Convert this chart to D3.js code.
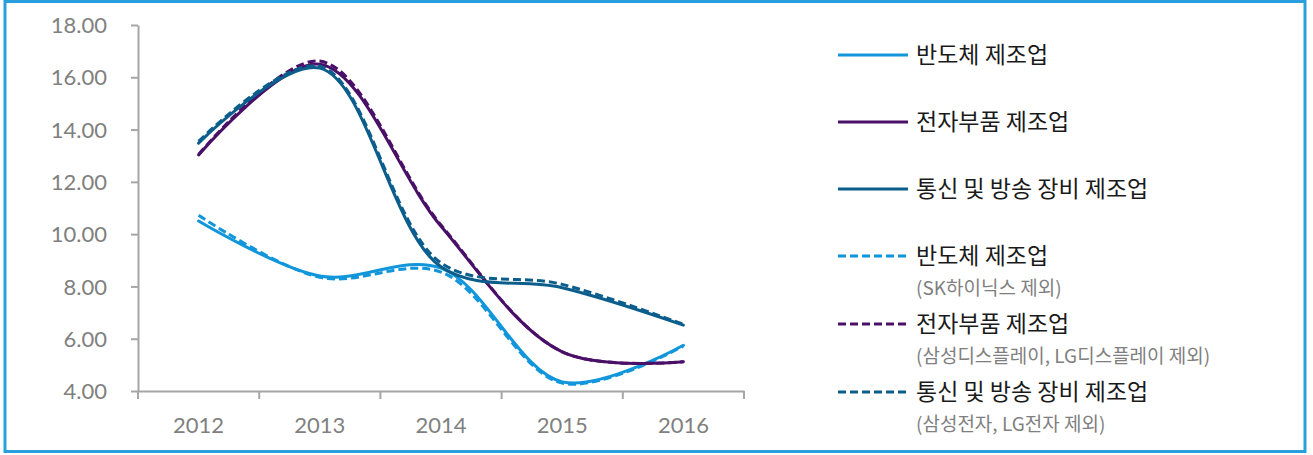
<!DOCTYPE html>
<html><head><meta charset="utf-8">
<script src="https://cdn.jsdelivr.net/npm/d3@7/dist/d3.min.js"></script>
<style>
html,body{margin:0;padding:0;background:#fff;}
svg{display:block;}
</style></head>
<body>
<svg id="chart" width="1313" height="455"></svg>
<script>
// ---- data ----
const years = ["2012", "2013", "2014", "2015", "2016"];
const yTicks = [4, 6, 8, 10, 12, 14, 16, 18];
const semiconductor      = [10.50, 8.40, 8.70, 4.35, 5.75];
const electronicParts    = [13.03, 16.50, 10.30, 5.50, 5.12];
const telecom            = [13.48, 16.35, 8.75, 7.95, 6.52];
const semiconductorExcl  = [10.72, 8.35, 8.55, 4.30, 5.72];
const electronicPartsExcl= [13.05, 16.62, 10.35, 5.50, 5.12];
const telecomExcl        = [13.55, 16.42, 8.90, 8.08, 6.55];
const seriesNames = ["반도체 제조업", "전자부품 제조업", "통신 및 방송 장비 제조업",
                     "반도체 제조업", "전자부품 제조업", "통신 및 방송 장비 제조업"];
const seriesNotes = ["", "", "", "(SK하이닉스 제외)", "(삼성디스플레이, LG디스플레이 제외)", "(삼성전자, LG전자 제외)"];

const colors = ["#1296DB", "#4A1068", "#0B5E8C", "#1296DB", "#4A1068", "#0B5E8C"];
const seriesData = [semiconductor, electronicParts, telecom, semiconductorExcl, electronicPartsExcl, telecomExcl];
const dashed = [false, false, false, true, true, true];

const svg = d3.select("#chart");

// frame
svg.append("rect").attr("x", 5).attr("y", 1.5).attr("width", 1300).attr("height", 450)
  .attr("fill", "none").attr("stroke", "#2A9FDD").attr("stroke-width", 3);

const x = d3.scaleBand().domain(years).range([138, 744]).padding(0);
const y = d3.scaleLinear().domain([4, 18]).range([391, 25]);
const cx = d => x(d) + x.bandwidth() / 2;

const axisColor = "#A6A6A6";
const labelColor = "#808080";
const numFont = "Lato, 'Open Sans', sans-serif";

// y axis
const gy = svg.append("g").attr("transform", "translate(138,0)")
  .call(d3.axisLeft(y).tickValues(yTicks).tickFormat(d3.format(".2f")).tickSize(7).tickSizeOuter(0));
gy.select(".domain").attr("stroke", axisColor).attr("stroke-width", 2);
gy.selectAll(".tick line").attr("stroke", axisColor).attr("stroke-width", 2);
gy.selectAll(".tick text").attr("fill", labelColor).attr("font-family", numFont)
  .attr("font-size", 22).attr("x", -31).attr("dy", "0.35em");

// x axis
const gx = svg.append("g").attr("transform", "translate(0,391)")
  .call(d3.axisBottom(x).tickSize(0).tickSizeOuter(0));
gx.select(".domain").attr("stroke", axisColor).attr("stroke-width", 2);
gx.selectAll(".tick text").attr("fill", labelColor).attr("font-family", numFont)
  .attr("font-size", 22).attr("dy", "0").attr("y", 42);
const boundaries = years.map(d => x(d)).concat([x.range()[1]]);
gx.selectAll(".bound").data(boundaries).enter().append("line")
  .attr("x1", d => d).attr("x2", d => d).attr("y1", 0).attr("y2", 8)
  .attr("stroke", axisColor).attr("stroke-width", 2);

// lines
const line = d3.line().x((d, i) => cx(years[i])).y(d => y(d)).curve(d3.curveCatmullRom.alpha(0.5));
const order = [0, 3, 1, 4, 2, 5];
order.forEach(i => {
  svg.append("path").datum(seriesData[i])
    .attr("d", line)
    .attr("fill", "none")
    .attr("stroke", colors[i])
    .attr("stroke-width", 3)
    .attr("stroke-linecap", dashed[i] ? "butt" : "round")
    .attr("stroke-dasharray", dashed[i] ? "8,4" : null);
});

// legend
const legRowY = [55, 122, 189, 256, 324, 392];
const lg = svg.append("g");
seriesNames.forEach((name, i) => {
  const yy = legRowY[i];
  lg.append("line").attr("x1", 838).attr("x2", 908).attr("y1", yy).attr("y2", yy)
    .attr("stroke", colors[i]).attr("stroke-width", 3)
    .attr("stroke-dasharray", dashed[i] ? "8,4" : null);
  lg.append("text").attr("x", 916).attr("y", yy).attr("dy", "0.36em")
    .attr("font-family", "'Noto Sans CJK KR', sans-serif").attr("font-size", 23)
    .attr("fill", "#1a1a1a").text(name);
  if (seriesNotes[i]) {
    lg.append("text").attr("x", 916).attr("y", yy + 32).attr("dy", "0.36em")
      .attr("font-family", "'Noto Sans CJK KR', sans-serif").attr("font-size", 19)
      .attr("fill", "#7F7F7F").text(seriesNotes[i]);
  }
});
</script>
</body></html>
